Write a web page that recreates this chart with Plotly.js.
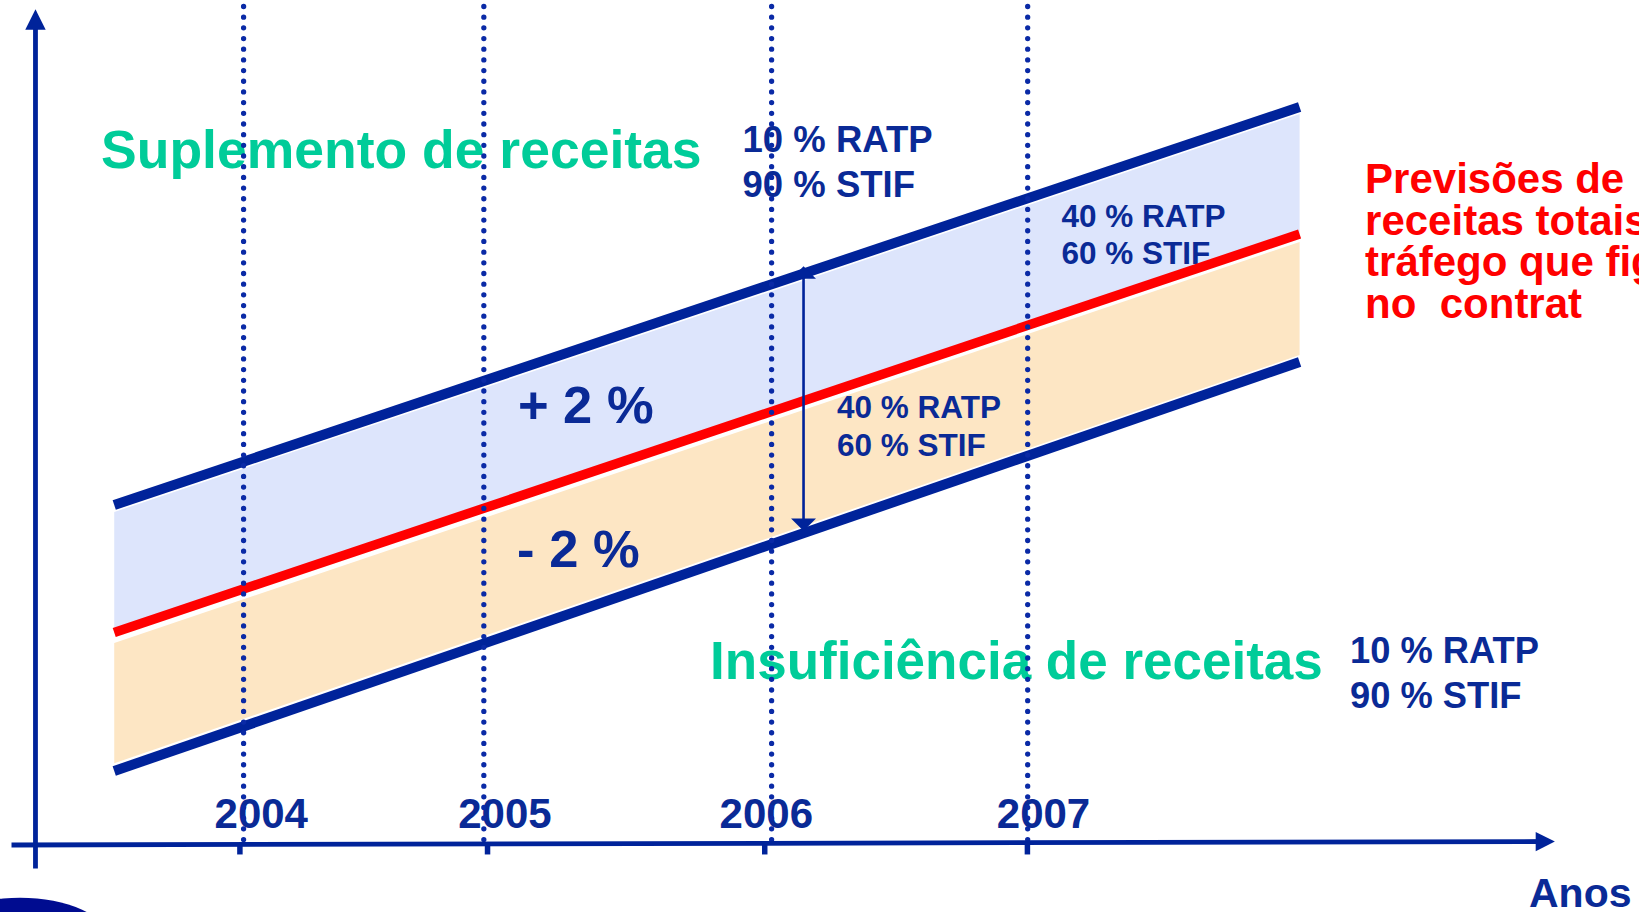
<!DOCTYPE html>
<html><head><meta charset="utf-8">
<script src="https://cdn.plot.ly/plotly-3.0.1.min.js"></script>
<style>html,body{margin:0;padding:0;overflow:hidden;background:#fff}#chart{width:1639px;height:912px}</style>
</head><body><div id="chart"></div>
<script>
// ---- data (x in years, y in arbitrary revenue units) ----
const yearLabels = ['2004', '2005', '2006', '2007'];
const yearLabelX = [2004.067, 2004.99, 2005.98, 2007.03];
const gridYears = [2004.0, 2004.91, 2006.0, 2006.97];
const tickYears = [2003.986, 2004.924, 2005.974, 2006.969];
const lineYears = [2003.51, 2008.0];
const upperBand = [40.09, 87.31];      // +2 %
const forecast = [24.97, 72.24];       // previsões de receitas
const lowerBand = [8.54, 57.06];       // -2 %
const blueFillTop = [39.26, 86.48];
const orangeFillTop = [23.72, 71.29];
const orangeFillBottom = [9.45, 57.89];

const FONT = 'Liberation Sans, Arial, Helvetica, sans-serif';
const NAVY = '#00239a';
const TXT = '#0a2a96';
const GREEN = '#00cc99';
const RED = '#ff0000';

function segs(xs, y0, y1) {
  const x = [], y = [];
  xs.forEach(v => { x.push(v, v, null); y.push(y0, y1, null); });
  return {x, y};
}
function label(x, y, text, size, color, pos) {
  return {type: 'scatter', mode: 'text', x: [x], y: [y], text: [text],
    textposition: pos || 'middle right',
    textfont: {family: FONT, size: size, color: color, weight: 'bold'},
    hoverinfo: 'skip', showlegend: false};
}
function band(y, extra) {
  return Object.assign({type: 'scatter', mode: 'lines', x: lineYears, y: y,
    hoverinfo: 'skip', showlegend: false}, extra);
}

const grid = segs(gridYears, 99.23, 0);
const ticks = segs(tickYears, 0, -1.36);

const traces = [
  band(orangeFillBottom, {line: {width: 0, color: 'rgba(0,0,0,0)'}}),
  band(orangeFillTop, {line: {width: 0, color: 'rgba(0,0,0,0)'}, fill: 'tonexty', fillcolor: '#fde6c4'}),
  band(forecast, {line: {width: 0, color: 'rgba(0,0,0,0)'}}),
  band(blueFillTop, {line: {width: 0, color: 'rgba(0,0,0,0)'}, fill: 'tonexty', fillcolor: '#dde5fc'}),

  label(2003.460, 81.64, 'Suplemento de receitas', 53.5, GREEN),
  label(2005.890, 83.08, '10 % RATP', 36.5, TXT),
  label(2005.890, 77.75, '90 % STIF', 36.5, TXT),
  label(2007.098, 74.04, '40 % RATP', 31.5, TXT),
  label(2007.098, 69.62, '60 % STIF', 31.5, TXT),
  label(2006.248, 51.32, '40 % RATP', 31.5, TXT),
  label(2006.248, 46.88, '60 % STIF', 31.5, TXT),
  label(2005.039, 51.33, '+ 2 %', 52.5, TXT),
  label(2005.036, 34.28, '- 2 %', 52.5, TXT),
  label(2005.767, 21.06, 'Insuficiência de receitas', 53, GREEN),
  label(2008.191, 22.46, '10 % RATP', 36.3, TXT),
  label(2008.191, 17.12, '90 % STIF', 36.3, TXT),
  label(2008.248, 78.32, 'Previsões de', 42, RED),
  label(2008.248, 73.39, 'receitas totais', 42, RED),
  label(2008.248, 68.47, 'tráfego que figuram', 42, RED),
  label(2008.248, 63.55, 'no  contrat', 42, RED),
  label(2008.869, -6.38, 'Anos', 41, TXT),
  {type: 'scatter', mode: 'text', x: yearLabelX, y: yearLabels.map(() => 3.06), text: yearLabels,
    textposition: 'middle center', textfont: {family: FONT, size: 42, color: TXT, weight: 'bold'},
    hoverinfo: 'skip', showlegend: false},

  band(upperBand, {line: {width: 10, color: NAVY}}),
  band(forecast, {line: {width: 9.5, color: RED}}),
  band(lowerBand, {line: {width: 10, color: NAVY}}),

  {type: 'scatter', mode: 'lines', x: ticks.x, y: ticks.y, connectgaps: false,
    line: {width: 5.5, color: NAVY}, hoverinfo: 'skip', showlegend: false},
  {type: 'scatter', mode: 'lines', x: grid.x, y: grid.y, connectgaps: false,
    line: {width: 5.3, color: '#0a2aa6', dash: '5.3px,5.37px'}, hoverinfo: 'skip', showlegend: false}
];

function arrow(x, y, ax, ay, o) {
  return Object.assign({x: x, y: y, ax: ax, ay: ay, xref: 'x', yref: 'y', axref: 'x', ayref: 'y',
    text: '', showarrow: true, arrowcolor: NAVY}, o);
}

const layout = {
  width: 1639, height: 912,
  margin: {l: 0, r: 0, t: 0, b: 0, pad: 0},
  paper_bgcolor: '#ffffff', plot_bgcolor: '#ffffff',
  showlegend: false,
  xaxis: {range: [2003.0773, 2009.2856], visible: false, fixedrange: true},
  yaxis: {range: [-8.185, 100], visible: false, fixedrange: true},
  annotations: [
    arrow(2003.2117, 98.90, 2003.2117, -3.203, {arrowhead: 2, arrowwidth: 4.8, arrowsize: 0.85}),
    arrow(2008.967, 0.178, 2003.1152, -0.237, {arrowhead: 2, arrowwidth: 4.8, arrowsize: 0.8}),
    arrow(2006.121, 37.0, 2006.121, 68.6, {arrowhead: 1, startarrowhead: 1, arrowside: 'end+start',
      arrowwidth: 2.6, arrowsize: 1.6, startarrowsize: 1.6})
  ],
  shapes: [
    {type: 'circle', xref: 'x', yref: 'y', x0: 2002.8235, x1: 2003.4826, y0: -6.49, y1: -15.98,
      fillcolor: '#000c90', line: {width: 0}, layer: 'above'}
  ]
};

Plotly.newPlot('chart', traces, layout, {staticPlot: true, displayModeBar: false}).then(function (gd) {
  // round dots for the dotted year lines
  const tr = gd.querySelectorAll('.scatterlayer .trace');
  const last = tr[tr.length - 1];
  if (last) last.querySelectorAll('path.js-line').forEach(function (p) {
    p.style.strokeLinecap = 'round';
    p.style.strokeDasharray = '0.01px,10.67px';
  });
});
</script></body></html>
